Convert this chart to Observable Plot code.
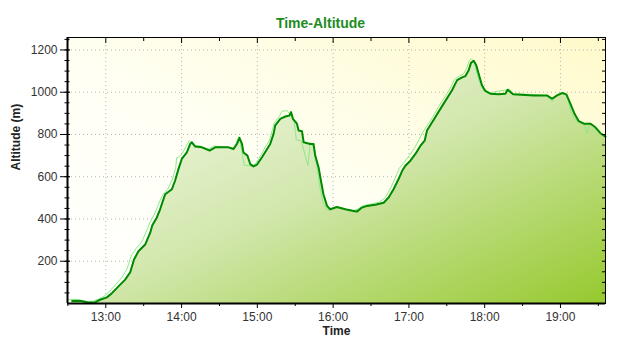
<!DOCTYPE html>
<html><head><meta charset="utf-8">
<script src="https://cdn.jsdelivr.net/npm/d3@7"></script>
<script src="https://cdn.jsdelivr.net/npm/@observablehq/plot@0.6"></script>
<style>html,body{margin:0;padding:0;background:#fff;} svg{display:block}</style>
</head><body><div id="chart"></div>
<script>
// ---- data ----
const chartTitle = "Time-Altitude";
const xLabel = "Time";
const yLabel = "Altitude (m)";

// smoothed track (dark green)
const darkTime = ["12:33:20","12:39:40","12:46:10","12:51:30","12:55:30","13:00:50","13:04:50","13:10:00","13:15:20","13:19:20","13:22:20","13:25:50","13:31:10","13:35:10","13:36:50","13:40:20","13:43:00","13:45:40","13:47:00","13:52:20","13:54:50","13:57:30","14:00:10","14:04:10","14:06:50","14:08:10","14:10:50","14:16:10","14:22:10","14:26:40","14:37:10","14:41:10","14:43:50","14:45:50","14:47:50","14:49:00","14:52:10","14:54:20","14:57:00","14:59:40","15:03:40","15:07:00","15:10:10","15:12:50","15:14:10","15:18:10","15:22:10","15:25:30","15:26:40","15:28:10","15:31:20","15:32:40","15:35:20","15:36:40","15:41:50","15:44:30","15:45:50","15:48:30","15:50:20","15:52:20","15:55:10","15:57:40","16:03:00","16:09:40","16:16:10","16:18:50","16:22:50","16:26:50","16:33:20","16:40:00","16:43:50","16:47:50","16:51:50","16:54:40","16:57:10","17:01:10","17:05:10","17:09:10","17:12:30","17:14:20","17:20:50","17:27:30","17:34:10","17:38:10","17:42:10","17:44:40","17:47:20","17:49:10","17:51:20","17:53:20","17:55:10","17:57:50","18:00:30","18:04:30","18:11:10","18:16:20","18:18:10","18:20:20","18:22:30","18:38:50","18:49:20","18:53:20","18:57:20","19:01:20","19:04:40","19:07:50","19:11:10","19:14:30","19:18:30","19:23:50","19:27:40","19:31:40","19:34:20","19:35:40"];
const darkAlt = [12,13,5,5,18,29,49,81,113,148,208,247,279,335,370,406,446,494,517,541,581,636,684,715,755,763,743,739,724,739,739,731,755,784,755,715,700,660,649,657,692,724,755,803,843,874,885,890,906,874,851,819,815,763,755,755,700,644,581,517,462,446,457,446,438,435,454,462,467,477,501,541,589,628,652,676,708,747,771,819,882,946,1009,1057,1070,1076,1104,1139,1149,1128,1089,1033,1006,993,990,993,1012,1001,990,985,985,969,985,996,990,946,898,863,851,851,834,806,795,790];

// raw track (light green)
const lightTime = ["12:29:40","12:35:40","12:39:40","12:46:00","12:50:00","12:54:00","12:58:40","13:03:25","13:08:10","13:12:55","13:16:55","13:20:00","13:24:00","13:28:45","13:32:45","13:35:05","13:38:15","13:41:25","13:44:35","13:49:20","13:52:30","13:55:20","13:56:05","13:57:20","14:00:30","14:03:40","14:06:00","14:09:10","14:14:45","14:21:05","14:25:50","14:36:55","14:40:55","14:43:20","14:45:15","14:47:10","14:49:35","14:55:55","14:59:05","15:03:05","15:06:15","15:09:25","15:11:50","15:13:25","15:17:20","15:19:40","15:23:40","15:26:00","15:29:10","15:30:50","15:34:45","15:37:55","15:40:05","15:41:55","15:44:20","15:46:15","15:48:10","15:49:50","15:51:50","15:54:10","15:56:55","16:02:30","16:09:40","16:16:00","16:19:55","16:23:05","16:29:25","16:36:35","16:41:20","16:45:20","16:49:15","16:52:25","16:56:25","17:00:20","17:04:20","17:07:30","17:11:25","17:18:35","17:24:55","17:32:00","17:36:00","17:40:00","17:43:05","17:45:30","17:47:55","17:49:30","17:51:55","17:53:25","17:55:50","17:59:00","18:03:00","18:10:55","18:16:25","18:19:35","18:22:40","18:36:10","18:48:55","18:53:25","18:56:50","19:00:00","19:03:05","19:05:30","19:08:40","19:11:55","19:15:50","19:19:00","19:21:05","19:23:00","19:25:25","19:29:20","19:33:20","19:35:40"];
const lightAlt = [18,20,15,8,12,20,35,60,92,125,165,225,260,295,350,385,420,465,510,545,585,640,690,690,710,745,770,750,745,730,745,740,735,760,790,740,655,650,665,705,740,770,820,855,885,911,912,895,860,775,770,700,652,763,740,680,610,540,480,450,440,455,445,440,448,462,470,480,500,545,595,640,670,700,735,770,815,880,945,1010,1060,1078,1085,1110,1150,1158,1140,1100,1050,1010,995,1005,1010,1015,992,990,985,955,985,998,995,975,900,870,855,850,803,850,845,815,795,790];

// axis ticks
const hourTicks = ["13:00","14:00","15:00","16:00","17:00","18:00","19:00"];
const halfTicks = ["12:30","13:30","14:30","15:30","16:30","17:30","18:30","19:30"];
const yMajor = [200,400,600,800,1000,1200];
const yMinor = [50,100,150,200,250,300,350,400,450,500,550,600,650,700,750,800,850,900,950,1000,1050,1100,1150,1200,1250];
const xDomain = ["12:29:40","19:35:40"];
const yDomain = [0,1259];

// ---- build ----
const T = s => new Date(`2000-01-01T${s}Z`);
const dark = darkTime.map((t,i)=>({time:T(t), alt:darkAlt[i]}));
const light = lightTime.map((t,i)=>({time:T(t), alt:lightAlt[i]}));
const fmt = d3.utcFormat("%H:%M");

const gradients = () => {
  const defs = d3.create("svg:defs");
  const bg = defs.append("linearGradient").attr("id","bgGrad")
    .attr("x1",0).attr("y1",1).attr("x2",1).attr("y2",0);
  bg.append("stop").attr("offset","0%").attr("stop-color","#ffffff");
  bg.append("stop").attr("offset","45%").attr("stop-color","#fffff4");
  bg.append("stop").attr("offset","100%").attr("stop-color","#fffacb");
  const ar = defs.append("linearGradient").attr("id","areaGrad")
    .attr("x1",0).attr("y1",0).attr("x2",1).attr("y2",1);
  ar.append("stop").attr("offset","0%").attr("stop-color","#fafcf2");
  ar.append("stop").attr("offset","50%").attr("stop-color","#d2e7ad");
  ar.append("stop").attr("offset","100%").attr("stop-color","#96c92e");
  return defs.node();
};

const gridStyle = {stroke:"#b4b4b4", strokeOpacity:1, strokeDasharray:"1,3", strokeWidth:1};

const chart = Plot.plot({
  width: 640, height: 350,
  marginTop: 37, marginRight: 35, marginBottom: 47, marginLeft: 67,
  style: {fontFamily: "'Liberation Sans', Arial, sans-serif", fontSize: "12px", color: "#222", background: "#fff", overflow: "visible"},
  x: {type: "utc", domain: xDomain.map(T)},
  y: {domain: yDomain},
  marks: [
    gradients,
    Plot.frame({fill: "url(#bgGrad)", stroke: null}),
    Plot.gridX(hourTicks.map(T), gridStyle),
    Plot.gridY(yMajor, gridStyle),
    Plot.areaY(dark, {x: "time", y: "alt", fill: "url(#areaGrad)"}),
    Plot.line(light, {x: "time", y: "alt", stroke: "#8fe88f", strokeWidth: 1}),
    Plot.line(dark, {x: "time", y: "alt", stroke: "#008a00", strokeWidth: 2}),
    Plot.frame({stroke: "#000", strokeWidth: 1}),
    Plot.ruleX([T(xDomain[0])], {stroke: "#000", strokeWidth: 2}),
    Plot.ruleY([yDomain[0]], {stroke: "#000", strokeWidth: 2}),
    // left axis (major ticks crossing the line, with labels)
    Plot.axisY(yMajor, {anchor: "left", tickSize: 10, dx: 3, tickPadding: 3, tickFormat: d => String(d), label: null, stroke: "#000", fill: "#333"}),
    Plot.axisY(yMinor, {anchor: "left", tickSize: 5, dx: 2.5, text: null, label: null, stroke: "#000"}),
    // right inner ticks
    Plot.axisY(yMinor, {anchor: "right", tickSize: 4, dx: -4, text: null, label: null, stroke: "#000"}),
    // top inner ticks
    Plot.axisX(hourTicks.map(T), {anchor: "top", tickSize: 5, dy: 5, text: null, label: null, stroke: "#000"}),
    Plot.axisX(halfTicks.map(T), {anchor: "top", tickSize: 3, dy: 3, text: null, label: null, stroke: "#000"}),
    // bottom axis
    Plot.axisX(hourTicks.map(T), {anchor: "bottom", tickSize: 5, tickPadding: 4, tickFormat: fmt, label: null, stroke: "#000", fill: "#333"}),
    Plot.axisX(halfTicks.map(T), {anchor: "bottom", tickSize: 3, text: null, label: null, stroke: "#000"}),
    // titles
    Plot.text([chartTitle], {text: d => d, frameAnchor: "top", dx: -16, dy: -19, fill: "#1e8c1e", fontWeight: "bold", fontSize: 14}),
    Plot.text([xLabel], {text: d => d, frameAnchor: "bottom", dy: 31, fill: "#222", fontWeight: "bold", fontSize: 12}),
    Plot.text([yLabel], {text: d => d, frameAnchor: "left", dx: -51, rotate: -90, fill: "#222", fontWeight: "bold", fontSize: 12})
  ]
});
document.getElementById("chart").appendChild(chart);
</script>
</body></html>
